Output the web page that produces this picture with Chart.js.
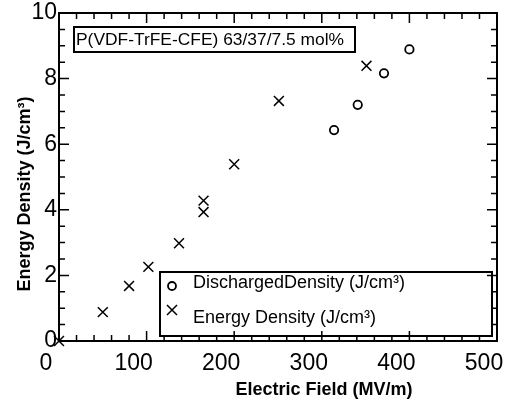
<!DOCTYPE html>
<html>
<head>
<meta charset="utf-8">
<script src="https://cdn.jsdelivr.net/npm/chart.js@4"></script>
<style>
  body { margin: 0; background: #fff; }
  #wrap { width: 512px; height: 402px; }
</style>
</head>
<body>
<div id="wrap"><canvas id="chart" width="512" height="402"></canvas></div>
<script>
// data
const fieldEnergy = [0, 50, 80, 102, 137, 165, 165, 200, 251, 351];
const energyDensity = [0, 0.88, 1.68, 2.26, 2.98, 3.93, 4.28, 5.39, 7.32, 8.39];
const fieldDischarged = [314, 341, 371, 400];
const dischargedDensity = [6.43, 7.2, 8.16, 8.89];

const xTickLabels = [0, 100, 200, 300, 400, 500];
const yTickLabels = [0, 2, 4, 6, 8, 10];

const sampleText = 'P(VDF-TrFE-CFE) 63/37/7.5 mol%';
const dischargedLabel = 'DischargedDensity (J/cm\u00b3)';
const energyLabel = 'Energy Density (J/cm\u00b3)';

function toPoints(xs, ys) {
    let pts = [];
    for (let i = 0; i < xs.length; i++) {
        pts.push({x: xs[i], y: ys[i]});
    }
    return pts;
}

// frame, inward ticks on all four sides, boxes and axis titles
const decorations = {
    id: 'decorations',
    afterDraw(chart) {
        const ctx = chart.ctx;
        const a = chart.chartArea;
        const xs = chart.scales.x;
        const ys = chart.scales.y;
        ctx.save();
        ctx.strokeStyle = '#000';
        ctx.fillStyle = '#000';

        ctx.lineWidth = 1.5;
        xs.ticks.forEach(t => {
            const px = xs.getPixelForValue(t.value);
            const len = t.value % 100 === 0 ? 10 : 6;
            ctx.beginPath();
            ctx.moveTo(px, a.bottom); ctx.lineTo(px, a.bottom - len);
            ctx.moveTo(px, a.top); ctx.lineTo(px, a.top + len);
            ctx.stroke();
        });
        ys.ticks.forEach(t => {
            const py = ys.getPixelForValue(t.value);
            const len = t.value % 2 === 0 ? 10 : 6;
            ctx.beginPath();
            ctx.moveTo(a.left, py); ctx.lineTo(a.left + len, py);
            ctx.moveTo(a.right, py); ctx.lineTo(a.right - len, py);
            ctx.stroke();
        });

        ctx.lineWidth = 2;
        ctx.strokeRect(a.left, a.top, a.right - a.left, a.bottom - a.top);

        // sample label box
        ctx.strokeRect(a.left + 15, a.top + 14, 281, 25);
        ctx.font = '17.4px "Liberation Sans", Arial, sans-serif';
        ctx.textBaseline = 'middle';
        ctx.textAlign = 'left';
        ctx.fillText(sampleText, a.left + 17, a.top + 27);

        // legend box
        ctx.font = '18px "Liberation Sans", Arial, sans-serif';
        const lx = a.left + 101, ly = a.top + 259;
        ctx.strokeRect(lx, ly, 332, 64);
        ctx.lineWidth = 1.8;
        ctx.beginPath();
        ctx.arc(lx + 12, ly + 14, 4, 0, Math.PI * 2);
        ctx.stroke();
        ctx.lineWidth = 1.5;
        ctx.beginPath();
        ctx.moveTo(lx + 7, ly + 33); ctx.lineTo(lx + 17, ly + 43);
        ctx.moveTo(lx + 17, ly + 33); ctx.lineTo(lx + 7, ly + 43);
        ctx.stroke();
        ctx.fillText(dischargedLabel, lx + 33, ly + 11);
        ctx.fillText(energyLabel, lx + 33, ly + 46);

        // axis titles
        ctx.font = 'bold 18px "Liberation Sans", Arial, sans-serif';
        ctx.textAlign = 'center';
        ctx.fillText('Electric Field (MV/m)', 324, 390);
        ctx.translate(25, 194);
        ctx.rotate(-Math.PI / 2);
        ctx.fillText('Energy Density (J/cm\u00b3)', 0, 0);
        ctx.restore();
    }
};

let chart = new Chart(document.getElementById('chart'), {
    type: 'scatter',
    data: {
        datasets: [{
            label: dischargedLabel,
            data: toPoints(fieldDischarged, dischargedDensity),
            pointStyle: 'circle',
            pointRadius: 4.2,
            borderWidth: 1.8,
            borderColor: '#000',
            backgroundColor: 'rgba(0,0,0,0)',
            clip: false
        }, {
            label: energyLabel,
            data: toPoints(fieldEnergy, energyDensity),
            pointStyle: 'crossRot',
            pointRadius: 7,
            borderWidth: 1.5,
            borderColor: '#000',
            backgroundColor: 'rgba(0,0,0,0)',
            clip: false
        }]
    },
    options: {
        responsive: false,
        animation: false,
        layout: {
            padding: {top: 13, right: 15, left: 0, bottom: 0}
        },
        plugins: {
            legend: {display: false},
            tooltip: {enabled: false}
        },
        scales: {
            x: {
                type: 'linear',
                min: 0,
                max: 500,
                grid: {display: false, drawTicks: false},
                border: {display: false},
                afterFit: s => { s.height = 61; s.paddingLeft = 0; s.paddingRight = 0; },
                ticks: {
                    stepSize: 20,
                    autoSkip: false,
                    maxRotation: 0,
                    padding: 9,
                    labelOffset: -13,
                    color: '#000',
                    font: {family: '"Liberation Sans", Arial, sans-serif', size: 23},
                    callback: v => xTickLabels.includes(v) ? String(v) : ''
                }
            },
            y: {
                type: 'linear',
                min: 0,
                max: 10,
                grid: {display: false, drawTicks: false},
                border: {display: false},
                afterFit: s => { s.width = 59; s.paddingTop = 0; s.paddingBottom = 0; },
                ticks: {
                    stepSize: 0.5,
                    autoSkip: false,
                    padding: 2,
                    color: '#000',
                    font: {family: '"Liberation Sans", Arial, sans-serif', size: 23},
                    callback: v => yTickLabels.includes(v) ? String(v) : ''
                }
            }
        }
    },
    plugins: [decorations]
});
</script>
</body>
</html>
